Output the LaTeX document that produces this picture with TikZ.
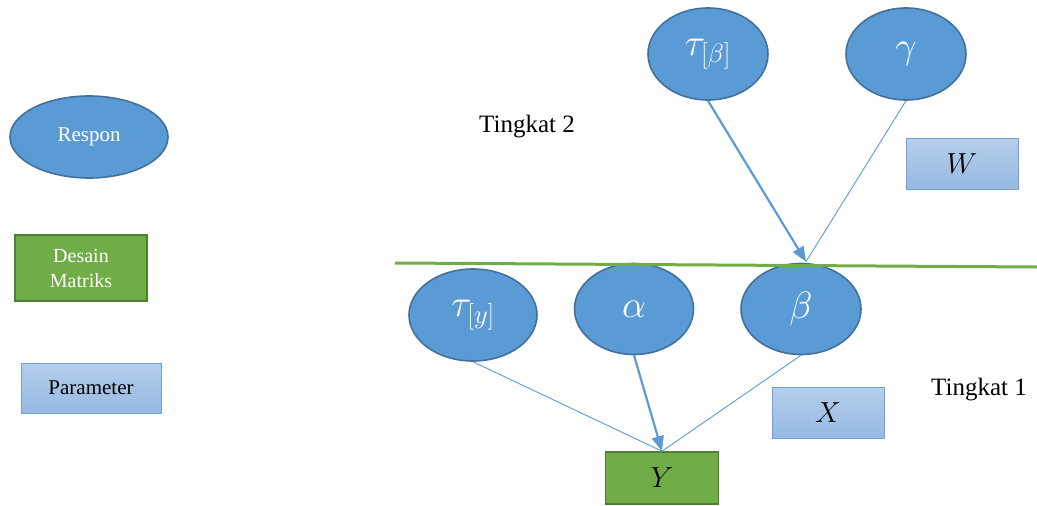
\RequirePackage{fix-cm}
\documentclass[tikz,border=0pt]{standalone}
\usepackage{fontspec}
\setmainfont{Liberation Serif}
\usetikzlibrary{shapes.geometric,arrows.meta}
\definecolor{respfill}{HTML}{5B9BD5}
\definecolor{respdraw}{HTML}{41719C}
\definecolor{matfill}{HTML}{70AD47}
\definecolor{matdraw}{HTML}{507E32}
\definecolor{partop}{HTML}{B5CEEB}
\definecolor{parbot}{HTML}{96B9E2}
\definecolor{pardraw}{HTML}{6FA1D9}
\definecolor{link}{HTML}{5B9BD5}
\tikzset{
  respon/.style={ellipse, draw=respdraw, line width=1.6pt, fill=respfill,
    text=white, inner sep=0pt},
  matriks/.style={rectangle, draw=matdraw, line width=1.6pt, fill=matfill,
    inner sep=0pt},
  param/.style={rectangle, draw=pardraw, line width=0.9pt,
    top color=partop, bottom color=parbot, inner sep=0pt},
  thinlink/.style={draw=link, line width=0.9pt},
  thicklink/.style={draw=link, line width=2.2pt},
  head/.style={-{Triangle[length=15pt,width=12pt]}},
  greek/.style={font=\fontsize{38}{42}\selectfont},
  latin/.style={font=\fontsize{29}{32}\selectfont},
  label/.style={font=\fontsize{21}{24}\selectfont},
  level/.style={font=\fontsize{25}{28}\selectfont},
}
\begin{document}
\begin{tikzpicture}[x=1pt,y=-1pt]
\useasboundingbox (0,0) rectangle (1037,506);

% legend
\node[respon, label, minimum width=158pt, minimum height=82pt] (leg1) at (89,137) {Respon};
\node[matriks, minimum width=132pt, minimum height=66pt, text=white, align=center,
  font=\fontsize{20}{25}\selectfont] (leg2) at (81,268) {Desain\\Matriks};
\node[param, label, minimum width=140pt, minimum height=50pt] (leg3) at (91,388) {Parameter};

% level labels
\node[level] (lv2) at (527,127) {Tingkat 2};
\node[level] (lv1) at (979,390) {Tingkat 1};

% level 2
\node[respon, greek, minimum width=120pt, minimum height=92pt] (taub) at (708,54) {$\tau_{[\beta]}$};
\node[respon, greek, minimum width=120pt, minimum height=92pt] (gam) at (906,54) {$\gamma$};
\node[param, latin, minimum width=112pt, minimum height=51pt] (W) at (962,164) {$W$};

% separator between levels
\coordinate (sepl) at (395,263);
\coordinate (sepr) at (1037,267);

% level 1
\node[respon, greek, minimum width=128pt, minimum height=92pt] (tauy) at (473,315) {$\tau_{[y]}$};
\node[respon, greek, minimum width=119pt, minimum height=91pt] (alp) at (634,309) {$\alpha$};
\node[respon, greek, minimum width=120pt, minimum height=91pt] (bet) at (801,309) {$\beta$};
\node[param, latin, minimum width=112pt, minimum height=51pt] (X) at (828,413) {$X$};
\node[matriks, latin, minimum width=113pt, minimum height=52pt] (Y) at (662,478) {$Y$};

\draw[draw=matfill, line width=3pt] (sepl) -- (sepr);

% links into beta
\coordinate (bt) at ([xshift=5pt,yshift=1pt]bet.north);
\draw[thinlink] (gam.south) -- (bt);
\draw[thicklink, head] (taub.south) -- (bt);

% links into Y
\draw[thinlink] (tauy.south) -- (Y.north);
\draw[thinlink] (bet.south) -- (Y.north);
\draw[thicklink, head] (alp.south) -- (Y.north);
\end{tikzpicture}
\end{document}
